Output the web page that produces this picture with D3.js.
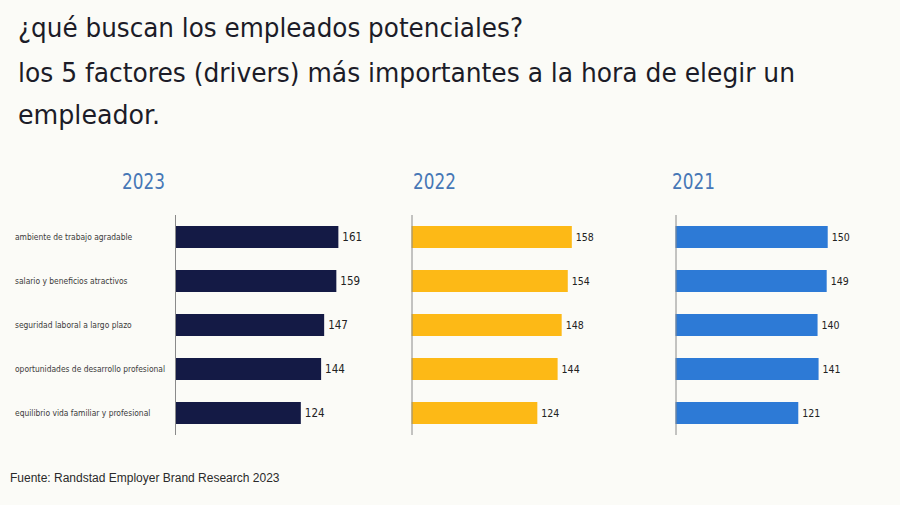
<!DOCTYPE html>
<html>
<head>
<meta charset="utf-8">
<script src="https://cdn.jsdelivr.net/npm/d3@7"></script>
<style>
  html, body { margin: 0; padding: 0; background: #fbfbf7; }
  svg { display: block; }
</style>
</head>
<body>
<svg id="chart" width="900" height="505"></svg>
<script>
const titleLines = [
  "¿qué buscan los empleados potenciales?",
  "los 5 factores (drivers) más importantes a la hora de elegir un",
  "empleador."
];
const categories = [
  "ambiente de trabajo agradable",
  "salario y beneficios atractivos",
  "seguridad laboral a largo plazo",
  "oportunidades de desarrollo profesional",
  "equilibrio vida familiar y profesional"
];
const years = ["2023", "2022", "2021"];
const values2023 = [161, 159, 147, 144, 124];
const values2022 = [158, 154, 148, 144, 124];
const values2021 = [150, 149, 140, 141, 121];
const seriesColors = ["#141a45", "#fdb916", "#2d7ad6"];
const source = "Fuente: Randstad Employer Brand Research 2023";

const svg = d3.select("#chart");
svg.append("rect").attr("width", 900).attr("height", 505).attr("fill", "#fbfbf7");

// Title
const titleFont = "'DejaVu Sans Condensed', 'DejaVu Sans', sans-serif";
const titleBaselines = [37, 82, 124];
const titleWidths = [505, 777, 142];
titleLines.forEach((t, i) => {
  const el = svg.append("text")
    .attr("x", 18).attr("y", titleBaselines[i])
    .attr("font-family", titleFont)
    .attr("font-stretch", "condensed")
    .attr("font-size", 26)
    .attr("fill", "#1c1c28")
    .text(t);
  const w = el.node().getComputedTextLength();
  if (Math.abs(w - titleWidths[i]) > 6) {
    el.attr("textLength", titleWidths[i]).attr("lengthAdjust", "spacingAndGlyphs");
  }
});

const seriesData = [values2023, values2022, values2021];
const panelX = [175, 411.5, 675.5];
const yearX = [122, 413, 672];
const labelSizes = [11.5, 10.5, 10.5];

const y = d3.scaleBand().domain(categories).range([215, 435]).paddingInner(0.5).paddingOuter(0.25);
const x = d3.scaleLinear().domain([0, 170]).range([0, 172.5]);

seriesData.forEach((vals, p) => {
  const g = svg.append("g").attr("transform", `translate(${panelX[p]},0)`);
  // year header
  const yt = svg.append("text")
    .attr("x", yearX[p]).attr("y", 189)
    .attr("font-family", "'DejaVu Sans Condensed', 'DejaVu Sans', sans-serif")
    .attr("font-stretch", "condensed")
    .attr("font-size", 21)
    .attr("fill", "#4677b6")
    .text(years[p]);
  yt.attr("textLength", 43).attr("lengthAdjust", "spacingAndGlyphs");

  g.selectAll("rect.bar").data(vals).join("rect")
    .attr("class", "bar")
    .attr("x", 0)
    .attr("y", (d, i) => y(categories[i]))
    .attr("width", d => x(d))
    .attr("height", y.bandwidth())
    .attr("fill", seriesColors[p]);

  // vertical axis line
  g.append("line")
    .attr("x1", 0.5).attr("x2", 0.5)
    .attr("y1", y.range()[0]).attr("y2", y.range()[1])
    .attr("stroke", "#8a8a8a").attr("stroke-width", 1);

  g.selectAll("text.val").data(vals).join("text")
    .attr("class", "val")
    .attr("x", d => x(d) + 4)
    .attr("y", (d, i) => y(categories[i]) + y.bandwidth() / 2)
    .attr("dy", "0.35em")
    .attr("font-family", "'DejaVu Sans Condensed', 'DejaVu Sans', sans-serif")
    .attr("font-stretch", "condensed")
    .attr("font-size", labelSizes[p])
    .attr("fill", "#222")
    .text(d => d);
});

// category labels (narrow font, condensed uniformly so the longest fits the label column)
const cats = svg.selectAll("text.cat").data(categories).join("text")
  .attr("class", "cat")
  .attr("x", 15)
  .attr("y", d => y(d) + y.bandwidth() / 2)
  .attr("dy", "0.35em")
  .attr("font-family", "'DejaVu Sans Condensed', 'DejaVu Sans', sans-serif")
  .attr("font-stretch", "condensed")
  .attr("font-size", 9.5)
  .attr("fill", "#3a3a3a")
  .text(d => d);
const widths = cats.nodes().map(n => n.getComputedTextLength());
const maxW = d3.max(widths);
const factor = 150 / maxW;
cats.each(function (d, i) {
  if (factor < 1) {
    d3.select(this).attr("textLength", widths[i] * factor).attr("lengthAdjust", "spacingAndGlyphs");
  }
});

// source
svg.append("text")
  .attr("x", 10).attr("y", 482)
  .attr("font-family", "'Liberation Sans', Arial, sans-serif")
  .attr("font-size", 12)
  .attr("fill", "#2a2a2a")
  .text(source);
</script>
</body>
</html>
